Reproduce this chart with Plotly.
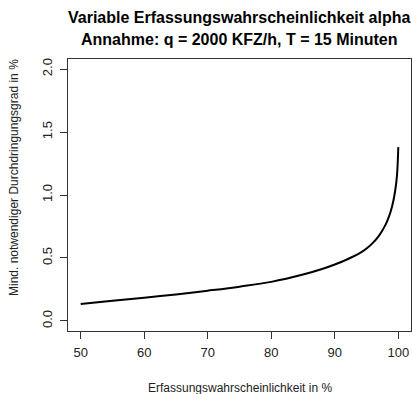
import plotly.graph_objects as go

# Erfassungswahrscheinlichkeit in %
alpha = [50, 55, 60, 65, 70, 75, 80, 85, 88, 90, 92, 94, 95, 96, 97, 98, 98.5, 99, 99.5, 99.8, 100]
# Mind. notwendiger Durchdringungsgrad in %
grad = [0.135, 0.16, 0.185, 0.21, 0.24, 0.272, 0.31, 0.368, 0.412, 0.448, 0.49, 0.54, 0.575, 0.62, 0.68, 0.765, 0.825, 0.905, 1.03, 1.16, 1.38]

x_ticks = [50, 60, 70, 80, 90, 100]
y_ticks = [0.0, 0.5, 1.0, 1.5, 2.0]
y_tick_text = ["0.0", "0.5", "1.0", "1.5", "2.0"]

title_lines = ["Variable Erfassungswahrscheinlichkeit alpha",
               "Annahme: q = 2000 KFZ/h, T = 15 Minuten"]
x_title = "Erfassungswahrscheinlichkeit in %"
y_title = "Mind. notwendiger Durchdringungsgrad in %"

FONT = "Liberation Sans, Arial, sans-serif"

fig = go.Figure()
fig.add_trace(go.Scatter(x=alpha, y=grad, mode="lines",
                         line=dict(color="black", width=2, shape="spline", smoothing=1.0),
                         showlegend=False, hoverinfo="skip"))

W, H = 412, 394
L, R, T, B = 68, 1, 59, 63

fig.update_layout(
    width=W, height=H,
    margin=dict(l=L, r=R, t=T, b=B),
    paper_bgcolor="white", plot_bgcolor="white",
    font=dict(family=FONT, size=12, color="#222"),
    xaxis=dict(range=[48, 102], tickvals=x_ticks, ticks="outside", ticklen=7,
               tickcolor="#333", showline=True, linecolor="#333", mirror=True,
               showgrid=False, zeroline=False, tickfont=dict(size=13, color="#222"),
               ticklabelstandoff=2),
    yaxis=dict(range=[-0.08, 2.08], tickvals=y_ticks, ticktext=y_tick_text,
               ticks="outside", ticklen=7, tickcolor="#333", tickangle=-90,
               showline=True, linecolor="#333", mirror=True,
               showgrid=False, zeroline=False, tickfont=dict(size=13, color="#222"),
               ticklabelstandoff=3),
)

fig.add_annotation(text="<b>" + title_lines[0] + "</b>", xref="paper", yref="paper",
                   x=(239 - L) / (W - L - R), y=1 + (T - 17) / (H - T - B),
                   showarrow=False, font=dict(size=16, color="black"),
                   xanchor="center", yanchor="middle")
fig.add_annotation(text="<b>" + title_lines[1] + "</b>", xref="paper", yref="paper",
                   x=(239 - L) / (W - L - R), y=1 + (T - 39) / (H - T - B),
                   showarrow=False, font=dict(size=16, color="black"),
                   xanchor="center", yanchor="middle")
fig.add_annotation(text=x_title, xref="paper", yref="paper",
                   x=(240 - L) / (W - L - R), y=-(388 - (H - B)) / (H - T - B),
                   showarrow=False, font=dict(size=12, color="#222"),
                   xanchor="center", yanchor="middle")
fig.add_annotation(text=y_title, xref="paper", yref="paper", textangle=-90,
                   x=-(L - 14) / (W - L - R), y=(H - B - 178) / (H - T - B),
                   showarrow=False, font=dict(size=12, color="#222"),
                   xanchor="center", yanchor="middle")

fig.write_html("out.html")
